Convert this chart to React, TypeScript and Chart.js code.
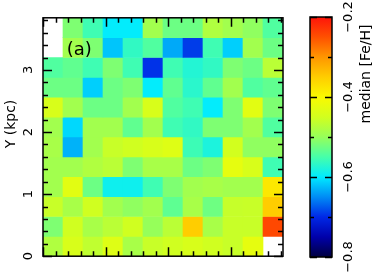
import React, { useEffect, useRef } from 'react';
import { Chart, registerables } from 'chart.js';

Chart.register(...registerables);

// ---- data ----
// bin centres along X (kpc), left -> right
const xBins = [0.16, 0.48, 0.8, 1.12, 1.44, 1.76, 2.08, 2.4, 2.72, 3.04, 3.36, 3.68];
// bin centres along Y (kpc), rows listed top -> bottom
const yBins = [3.68, 3.36, 3.04, 2.72, 2.4, 2.08, 1.76, 1.44, 1.12, 0.8, 0.48, 0.16];
const binSize = 0.32;

// median [Fe/H] per cell, rows top -> bottom (null = empty bin)
const medianFeH: (number | null)[][] = [
  [null, -0.515, -0.555, -0.598, -0.598, -0.49, -0.526, -0.526, -0.478, -0.49, -0.504, -0.544],
  [null, -0.49, -0.515, -0.62, -0.565, -0.544, -0.635, -0.69, -0.555, -0.615, -0.49, -0.526],
  [-0.544, -0.534, -0.555, -0.515, -0.555, -0.695, -0.555, -0.575, -0.565, -0.515, -0.526, -0.47],
  [-0.526, -0.526, -0.615, -0.526, -0.515, -0.598, -0.534, -0.57, -0.534, -0.49, -0.544, -0.534],
  [-0.443, -0.49, -0.526, -0.526, -0.49, -0.443, -0.544, -0.555, -0.598, -0.515, -0.43, -0.515],
  [-0.49, -0.61, -0.49, -0.49, -0.534, -0.49, -0.555, -0.565, -0.515, -0.515, -0.49, -0.544],
  [-0.485, -0.63, -0.49, -0.458, -0.452, -0.443, -0.435, -0.557, -0.58, -0.45, -0.504, -0.504],
  [-0.49, -0.49, -0.478, -0.47, -0.515, -0.485, -0.485, -0.526, -0.515, -0.425, -0.443, -0.555],
  [-0.49, -0.43, -0.526, -0.59, -0.59, -0.555, -0.515, -0.49, -0.485, -0.49, -0.49, -0.38],
  [-0.458, -0.485, -0.452, -0.49, -0.504, -0.49, -0.535, -0.485, -0.525, -0.46, -0.458, -0.35],
  [-0.515, -0.452, -0.485, -0.47, -0.452, -0.5, -0.47, -0.35, -0.485, -0.458, -0.458, -0.243],
  [-0.478, -0.443, -0.465, -0.435, -0.485, -0.458, -0.452, -0.443, -0.452, -0.458, -0.425, null],
];

const xRange = [0, 3.84];
const yRange = [0, 3.84];
const axisMajorStep = 1;
const axisMinorStep = 0.2;

const cbRange = [-0.8, -0.2];
const cbMajorStep = 0.2;
const cbMinorStep = 0.1;

const panelLabel = '(a)';
const yTitle = 'Y (kpc)';
const cbTitle = 'median [Fe/H]';

// ---- colour map ----
const cmapStops: [number, [number, number, number]][] = [
  [-0.8, [0, 0, 64]],
  [-0.75, [0, 0, 170]],
  [-0.7, [0, 40, 230]],
  [-0.65, [0, 140, 245]],
  [-0.6, [0, 235, 255]],
  [-0.55, [70, 255, 170]],
  [-0.5, [150, 255, 90]],
  [-0.45, [210, 255, 30]],
  [-0.4, [250, 250, 0]],
  [-0.35, [255, 205, 0]],
  [-0.3, [255, 150, 0]],
  [-0.25, [255, 80, 0]],
  [-0.2, [255, 20, 10]],
];

function cmap(v: number): string {
  const s = cmapStops;
  if (v <= s[0][0]) return `rgb(${s[0][1].join(',')})`;
  if (v >= s[s.length - 1][0]) return `rgb(${s[s.length - 1][1].join(',')})`;
  for (let i = 0; i < s.length - 1; i++) {
    const [v0, c0] = s[i];
    const [v1, c1] = s[i + 1];
    if (v >= v0 && v <= v1) {
      const t = (v - v0) / (v1 - v0);
      const c = c0.map((a, k) => Math.round(a + (c1[k] - a) * t));
      return `rgb(${c.join(',')})`;
    }
  }
  return '#fff';
}

const FONT = 'DejaVu Sans';

function fmtMinus(v: number): string {
  const s = Math.abs(v).toFixed(1);
  return v < -1e-9 ? '\u2212' + s : s;
}

const heatDecor = {
  id: 'heatDecor',
  afterDatasetsDraw(chart: any) {
    const { ctx, chartArea: a, scales } = chart;
    const x = scales.x;
    const y = scales.y;
    ctx.save();
    ctx.strokeStyle = '#000';
    ctx.lineWidth = 1.5;
    ctx.strokeRect(a.left, a.top, a.right - a.left, a.bottom - a.top);
    const isMajor = (v: number) => Math.abs(v / axisMajorStep - Math.round(v / axisMajorStep)) < 1e-6;
    ctx.beginPath();
    const nx = Math.floor((x.max - x.min) / axisMinorStep + 1e-9);
    for (let k = 0; k <= nx; k++) {
      const v = x.min + k * axisMinorStep;
      const px = Math.round(x.getPixelForValue(v)) + 0.5;
      const len = isMajor(v) ? 9 : 5;
      ctx.moveTo(px, a.bottom);
      ctx.lineTo(px, a.bottom - len);
      ctx.moveTo(px, a.top);
      ctx.lineTo(px, a.top + len);
    }
    const ny = Math.floor((y.max - y.min) / axisMinorStep + 1e-9);
    for (let k = 0; k <= ny; k++) {
      const v = y.min + k * axisMinorStep;
      const py = Math.round(y.getPixelForValue(v)) + 0.5;
      const len = isMajor(v) ? 9 : 5;
      ctx.moveTo(a.left, py);
      ctx.lineTo(a.left + len, py);
      ctx.moveTo(a.right, py);
      ctx.lineTo(a.right - len, py);
    }
    ctx.stroke();
    ctx.restore();
  },
  afterDraw(chart: any) {
    const { ctx, chartArea: a, scales } = chart;
    ctx.save();
    ctx.fillStyle = '#000';
    // panel label
    ctx.font = `18px "${FONT}"`;
    ctx.textAlign = 'center';
    ctx.textBaseline = 'middle';
    ctx.fillText(panelLabel, scales.x.getPixelForValue(0.58), scales.y.getPixelForValue(3.32));
    // Y axis title
    ctx.font = `14px "${FONT}"`;
    ctx.translate(a.left - 32, (a.top + a.bottom) / 2 - 13);
    ctx.rotate(-Math.PI / 2);
    ctx.fillText(yTitle, 0, 0);
    ctx.restore();
  },
};

const cbDecor = {
  id: 'cbDecor',
  afterDatasetsDraw(chart: any) {
    const { ctx, chartArea: a, scales } = chart;
    const y = scales.y;
    ctx.save();
    ctx.strokeStyle = '#000';
    ctx.lineWidth = 1.5;
    ctx.strokeRect(a.left, a.top, a.right - a.left, a.bottom - a.top);
    ctx.beginPath();
    const n = Math.round((cbRange[1] - cbRange[0]) / cbMinorStep);
    for (let k = 0; k <= n; k++) {
      const v = cbRange[0] + k * cbMinorStep;
      const r = v / cbMajorStep;
      const major = Math.abs(r - Math.round(r)) < 1e-6;
      const len = major ? 7 : 4;
      const py = Math.round(y.getPixelForValue(v)) + 0.5;
      ctx.moveTo(a.left, py);
      ctx.lineTo(a.left + len, py);
      ctx.moveTo(a.right, py);
      ctx.lineTo(a.right - len, py);
    }
    ctx.stroke();
    ctx.restore();
  },
  afterDraw(chart: any) {
    const { ctx, chartArea: a } = chart;
    ctx.save();
    ctx.fillStyle = '#000';
    ctx.font = `14px "${FONT}"`;
    ctx.textAlign = 'center';
    ctx.textBaseline = 'middle';
    ctx.translate(a.right + 34, a.top + 57);
    ctx.rotate(-Math.PI / 2);
    ctx.fillText(cbTitle, 0, 0);
    ctx.restore();
  },
};

export default function App() {
  const heatRef = useRef<HTMLCanvasElement>(null);
  const cbRef = useRef<HTMLCanvasElement>(null);

  useEffect(() => {
    Chart.defaults.color = '#000';
    Chart.defaults.font.family = FONT;
    Chart.defaults.font.size = 13;

    const datasets = medianFeH.map((row, r) => {
      const cells = row
        .map((v, c) => ({ v, c }))
        .filter((d) => d.v !== null) as { v: number; c: number }[];
      return {
        label: `Y=${yBins[r]}`,
        data: cells.map((d) => ({ x: xBins[d.c], y: [yBins[r] - binSize / 2, yBins[r] + binSize / 2] })),
        backgroundColor: cells.map((d) => cmap(d.v)),
        borderWidth: 0,
        grouped: false,
        barPercentage: 1,
        categoryPercentage: 1,
      };
    });

    const heat = new Chart(heatRef.current!, {
      type: 'bar',
      data: { datasets } as any,
      plugins: [heatDecor],
      options: {
        responsive: false,
        animation: false,
        layout: { padding: { top: 17, right: 17, bottom: 0, left: 0 } },
        plugins: { legend: { display: false }, tooltip: { enabled: false } },
        scales: {
          x: {
            type: 'linear',
            min: xRange[0],
            max: xRange[1],
            offset: false,
            ticks: { display: false, stepSize: axisMajorStep, includeBounds: false },
            grid: { display: false, drawTicks: false },
            border: { display: false },
            afterFit: (s: any) => {
              s.height = 17;
            },
          },
          y: {
            type: 'linear',
            min: yRange[0],
            max: yRange[1],
            ticks: {
              stepSize: axisMajorStep,
              includeBounds: false,
              minRotation: 90,
              maxRotation: 90,
              crossAlign: 'center',
              padding: 10,
              font: { family: FONT, size: 13 },
              color: '#000',
              callback: (v: any) => String(Math.round(v)),
            },
            grid: { display: false, drawTicks: false },
            border: { display: false },
            afterFit: (s: any) => {
              s.width = 43;
            },
          },
        },
      } as any,
    });

    const cb = new Chart(cbRef.current!, {
      type: 'bar',
      data: {
        labels: [''],
        datasets: [
          {
            data: [[cbRange[0], cbRange[1]]],
            barPercentage: 1,
            categoryPercentage: 1,
            borderWidth: 0,
            backgroundColor: (c: any) => {
              const ch = c.chart;
              if (!ch.chartArea) return '#fff';
              const ys = ch.scales.y;
              const g = ch.ctx.createLinearGradient(
                0,
                ys.getPixelForValue(cbRange[0]),
                0,
                ys.getPixelForValue(cbRange[1])
              );
              cmapStops.forEach(([v, col]) => {
                g.addColorStop((v - cbRange[0]) / (cbRange[1] - cbRange[0]), `rgb(${col.join(',')})`);
              });
              return g;
            },
          },
        ],
      } as any,
      plugins: [cbDecor],
      options: {
        responsive: false,
        animation: false,
        layout: { padding: { top: 17, right: 0, bottom: 17, left: 10 } },
        plugins: { legend: { display: false }, tooltip: { enabled: false } },
        scales: {
          x: { display: false },
          y: {
            type: 'linear',
            position: 'right',
            min: cbRange[0],
            max: cbRange[1],
            ticks: {
              stepSize: cbMajorStep,
              minRotation: 90,
              maxRotation: 90,
              crossAlign: 'center',
              padding: 1,
              font: { family: FONT, size: 13 },
              color: '#000',
              callback: (v: any) => fmtMinus(Number(v)),
            },
            grid: { display: false, drawTicks: false },
            border: { display: false },
            afterFit: (s: any) => {
              s.width = 42;
            },
          },
        },
      } as any,
    });

    return () => {
      heat.destroy();
      cb.destroy();
    };
  }, []);

  return (
    <div style={{ position: 'absolute', left: 0, top: 0, width: 374, height: 274, background: '#fff' }}>
      <canvas
        ref={heatRef}
        width={300}
        height={274}
        style={{ position: 'absolute', left: 0, top: 0, width: 300, height: 274 }}
      />
      <canvas
        ref={cbRef}
        width={74}
        height={274}
        style={{ position: 'absolute', left: 300, top: 0, width: 74, height: 274 }}
      />
    </div>
  );
}
